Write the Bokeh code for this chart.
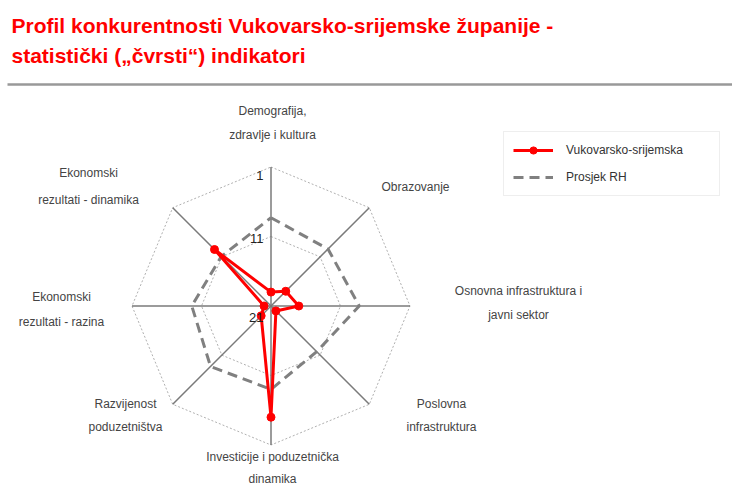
import numpy as np
from bokeh.plotting import figure
from bokeh.models import Range1d, Legend, LegendItem
from bokeh.core.properties import value
from bokeh.embed import file_html
from bokeh.resources import INLINE

# ---- data ----
categories = [
    "Demografija,\nzdravlje i kultura",
    "Obrazovanje",
    "Osnovna infrastruktura i\njavni sektor",
    "Poslovna\ninfrastruktura",
    "Investicije i poduzetnička\ndinamika",
    "Razvijenost\npoduzetništva",
    "Ekonomski\nrezultati - razina",
    "Ekonomski\nrezultati - dinamika",
]
vukovarsko = [19, 18, 17, 20, 5, 19, 20, 9.5]
prosjek_rh = [8.3, 9.4, 8.3, 11.7, 9.0, 8.7, 9.6, 10.9]
tick_values = [1, 11, 21]
series_names = ["Vukovarsko-srijemska", "Prosjek RH"]
title_lines = ["Profil konkurentnosti Vukovarsko-srijemske županije -",
               "statistički („čvrsti“) indikatori"]

# ---- geometry ----
W, H = 732, 485
CX, CY = 270.5, 305.5          # centre (px from left / top)
R = 139.0
RANK_MIN, RANK_MAX = 1, 21

def radius(v):
    return (RANK_MAX - np.asarray(v, dtype=float)) / (RANK_MAX - RANK_MIN) * R

n = len(categories)
ang = np.arange(n) * 2 * np.pi / n   # clockwise from top

def polar(vals):
    r = radius(vals)
    return r * np.sin(ang), r * np.cos(ang)

p = figure(width=W, height=H, output_backend="svg", toolbar_location=None,
           x_range=Range1d(-CX, W - CX), y_range=Range1d(CY - H, CY),
           min_border=0, outline_line_color=None)
p.axis.visible = False
p.grid.visible = False
p.background_fill_color = "white"
p.border_fill_color = "white"

FONT = "Liberation Sans"

# grid rings (dotted octagons)
for tv in [1, 11]:
    gx, gy = polar([tv] * n)
    p.line(list(gx) + [gx[0]], list(gy) + [gy[0]], line_color="#b0b0b0",
           line_width=1, line_dash="2 2")
# spokes
ox, oy = polar([RANK_MIN] * n)
for i in range(n):
    p.line([0, ox[i]], [0, oy[i]], line_color="#7a7a7a", line_width=1.5)

# series
gx, gy = polar(prosjek_rh)
gline = p.line(list(gx) + [gx[0]], list(gy) + [gy[0]], line_color="#808080",
               line_width=3, line_dash="10 6")
rx, ry = polar(vukovarsko)
rline = p.line(list(rx) + [rx[0]], list(ry) + [ry[0]], line_color="#ff0000",
               line_width=3)
rpts = p.scatter(rx, ry, size=8, fill_color="#ff0000", line_color="#ff0000")

# tick labels (drawn above the series)
tick_offsets = [8.5, 2, 11.5]   # px below the ring
for tv, off in zip(tick_values, tick_offsets):
    p.text(x=[-7.5], y=[float(radius(tv))], text=[str(tv)], text_align="right",
           text_baseline="middle", y_offset=off, text_font_size="13px",
           text_font=value(FONT), text_color="#222222")

# category labels: offsets from the centre (px), centred text blocks
lab_off = [(1.5, 183), (144.5, 119.5), (247.5, 3), (170.5, -109.5),
           (1.5, -162), (-145.5, -109.5), (-209.5, -3.5), (-182.5, 119.5)]
lab_lh = [1.75, 1.75, 1.75, 1.65, 1.6, 1.65, 1.8, 1.95]
for lab, (dx, dy), lh in zip(categories, lab_off, lab_lh):
    p.text(x=[dx], y=[dy], text=[lab], text_align="center",
           text_baseline="middle", text_font_size="12px", text_font=value(FONT),
           text_color="#444444", text_line_height=lh)

# title
p.text(x=[-CX + 11], y=[CY - 25], text=[title_lines[0]], text_baseline="middle",
       text_font_size="21px", text_font=value(FONT),
       text_font_style="bold", text_color="#ff0000")
p.text(x=[-CX + 11], y=[CY - 55], text=[title_lines[1]], text_baseline="middle",
       text_font_size="21px", text_font=value(FONT),
       text_font_style="bold", text_color="#ff0000")
# rule
p.line([-CX + 7, W - CX], [CY - 84, CY - 84], line_color="#999999", line_width=2.5)

legend = Legend(items=[
    LegendItem(label=series_names[0], renderers=[rline, rpts]),
    LegendItem(label=series_names[1], renderers=[gline]),
], location=(503, H - 196))
legend.label_text_font = FONT
legend.label_text_font_size = "12px"
legend.label_text_color = "#333333"
legend.glyph_width = 40
legend.glyph_height = 18
legend.label_height = 18
legend.label_width = 144
legend.border_line_color = "#dddddd"
legend.padding = 9
legend.spacing = 9
legend.label_standoff = 13
legend.margin = 0
p.add_layout(legend, "center")

open("out.html", "w").write(file_html(p, INLINE))
